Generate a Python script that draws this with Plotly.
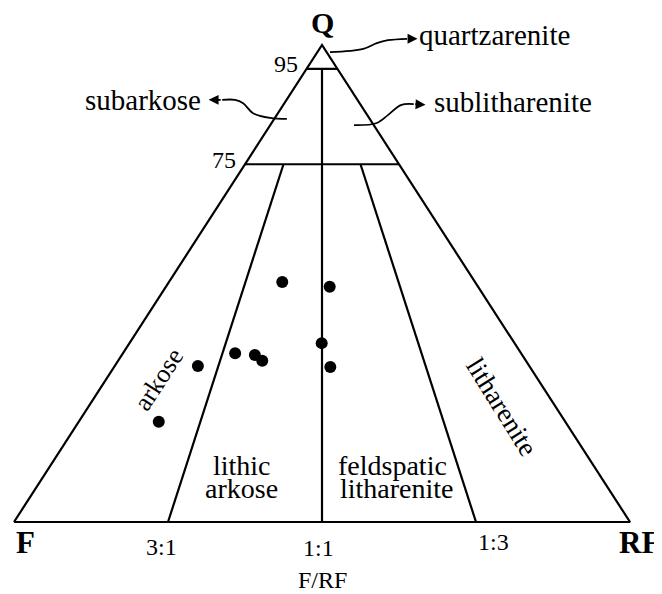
import plotly.graph_objects as go

# Q-F-RF composition (%) of the samples
Q = [50.3, 49.3, 37.5, 35.4, 35.0, 33.8, 32.7, 32.5, 21.0]
F = [31.3, 24.1, 31.3, 46.4, 43.4, 42.8, 53.8, 32.4, 66.0]
RF = [18.4, 26.6, 31.2, 18.2, 21.6, 23.4, 13.5, 35.1, 13.0]

# Folk classification boundaries: (Q, F, RF) end points of each segment
boundaries = [
    [(0, 100, 0), (100, 0, 0), (0, 0, 100), (0, 100, 0)],   # outline
    [(95, 5, 0), (95, 0, 5)],                               # 95 % Q
    [(75, 25, 0), (75, 0, 25)],                             # 75 % Q
    [(0, 50, 50), (95, 2.5, 2.5)],                          # 1:1
    [(0, 75, 25), (75, 18.75, 6.25)],                       # 3:1
    [(0, 25, 75), (75, 6.25, 18.75)],                       # 1:3
]


def tern(q, f, rf):
    s = q + f + rf
    return 100 * (rf + q / 2) / s, 100 * q / s


SERIF = "Liberation Serif"

fig = go.Figure()

lx, ly = [], []
for seg in boundaries:
    for p in seg:
        x, y = tern(*p)
        lx.append(x)
        ly.append(y)
    lx.append(None)
    ly.append(None)
fig.add_trace(go.Scatter(x=lx, y=ly, mode="lines",
                         line=dict(color="black", width=2.2), hoverinfo="skip"))

px_, py_ = zip(*[tern(q, f, r) for q, f, r in zip(Q, F, RF)])
fig.add_trace(go.Scatter(x=px_, y=py_, mode="markers",
                         marker=dict(color="black", size=12)))

# curved pointer lines (diagram units: x along F-RF base, y = Q %)
pointers = [
    ([51.3, 56.7, 58.9, 60.7, 63.8], [98.5, 99.2, 100.4, 101.0, 101.3], (65.5, 101.3)),
    ([44.3, 41.6, 38.8, 37.2, 35.9, 33.8], [84.5, 84.7, 85.7, 87.8, 88.5, 88.5], (31.6, 88.5)),
    ([55.2, 58.8, 60.7, 62.8, 64.9], [83.2, 83.6, 85.3, 87.4, 87.6], (66.8, 87.5)),
]
for xs, ys, tip in pointers:
    fig.add_trace(go.Scatter(x=xs, y=ys, mode="lines",
                             line=dict(color="black", width=1.8, shape="spline"),
                             hoverinfo="skip"))
    fig.add_annotation(x=tip[0], y=tip[1], ax=xs[-1], ay=ys[-1], axref="x", ayref="y",
                       text="", showarrow=True, arrowhead=2, arrowsize=1.1,
                       arrowwidth=1.8, arrowcolor="black")


def label(x, y, text, size=29, bold=False, angle=0, xanchor="center"):
    if bold:
        text = "<b>" + text + "</b>"
    fig.add_annotation(x=x, y=y, text=text, showarrow=False, textangle=angle,
                       xanchor=xanchor, yanchor="middle",
                       font=dict(family=SERIF, size=size, color="black"))


label(50.0, 104.8, "Q", size=30, bold=True)
label(1.8, -4.2, "F", size=31, bold=True)
label(97.9, -4.2, "RF", size=31, bold=True, xanchor="left")
label(46.4, 96.0, "95", size=24, xanchor="right")
label(36.4, 75.9, "75", size=24, xanchor="right")
label(65.4, 102.1, "quartzarenite", xanchor="left")
label(30.7, 88.5, "subarkose", xanchor="right")
label(67.9, 88.1, "sublitharenite", xanchor="left")
label(23.5, 29.8, "arkose", size=26, angle=-57)
label(79.2, 24.1, "litharenite", size=27, angle=58)
label(37.0, 11.9, "lithic", size=28)
label(37.0, 7.1, "arkose", size=28)
label(61.5, 11.9, "feldspatic", size=28)
label(62.2, 7.1, "litharenite", size=28)
label(24.0, -5.2, "3:1", size=24)
label(49.4, -5.5, "1:1", size=24)
label(77.9, -4.2, "1:3", size=24)
label(50.0, -12.2, "F/RF", size=24)

fig.update_layout(
    width=662, height=594,
    margin=dict(l=0, r=0, t=0, b=0),
    paper_bgcolor="white", plot_bgcolor="white",
    showlegend=False,
    xaxis=dict(range=[-6 / 6.16, 656 / 6.16], visible=False),
    yaxis=dict(range=[-80 / 4.77, 514 / 4.77], visible=False),
)

fig.write_html("out.html")
